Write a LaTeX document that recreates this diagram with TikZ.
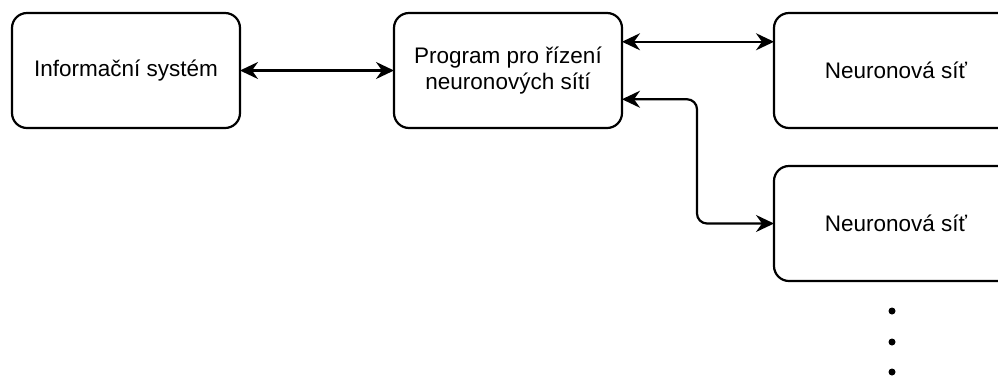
\documentclass[tikz,border=0pt]{standalone}
\usepackage{fontspec}
\setmainfont{Liberation Sans}
\usetikzlibrary{positioning,arrows.meta,calc}

\begin{document}
\begin{tikzpicture}[x=1pt, y=-1pt, line width=2.2pt,
                    box/.style={rectangle, rounded corners=15pt, draw, align=center,
                      minimum width=228pt, minimum height=115pt, inner sep=0pt, outer sep=0pt,
                      font=\fontsize{22.5}{26}\selectfont},
                    tip/.tip={Stealth[length=18pt,width=17pt,inset=6pt]},
                    link/.style={tip-tip}]
    \useasboundingbox (0,0) rectangle (998,376);

      \node[box] (info) at (126,70.5) {Informační systém};
      \node[box] (prog) [right=154pt of info] {Program pro řízení\\neuronových sítí};
      \node[box, minimum width=244pt] (net1) [right=152pt of prog] {Neuronová síť};
      \node[box, minimum width=244pt] (net2) [below=38pt of net1] {Neuronová síť};

      \coordinate (ptop) at ($(prog.north east)!.25!(prog.south east)$);
      \coordinate (pbot) at ($(prog.north east)!.75!(prog.south east)$);

      \draw[link] (info) -- (prog);
      \draw[link] (ptop) -- (ptop -| net1.west);
      \draw[link, rounded corners=10pt] (pbot) -- ++(75,0) |- (net2.west);

      % dots below the networks
      \foreach \y in {311,342,372}
        \fill (892,\y) circle (3.5pt);
\end{tikzpicture}
\end{document}
